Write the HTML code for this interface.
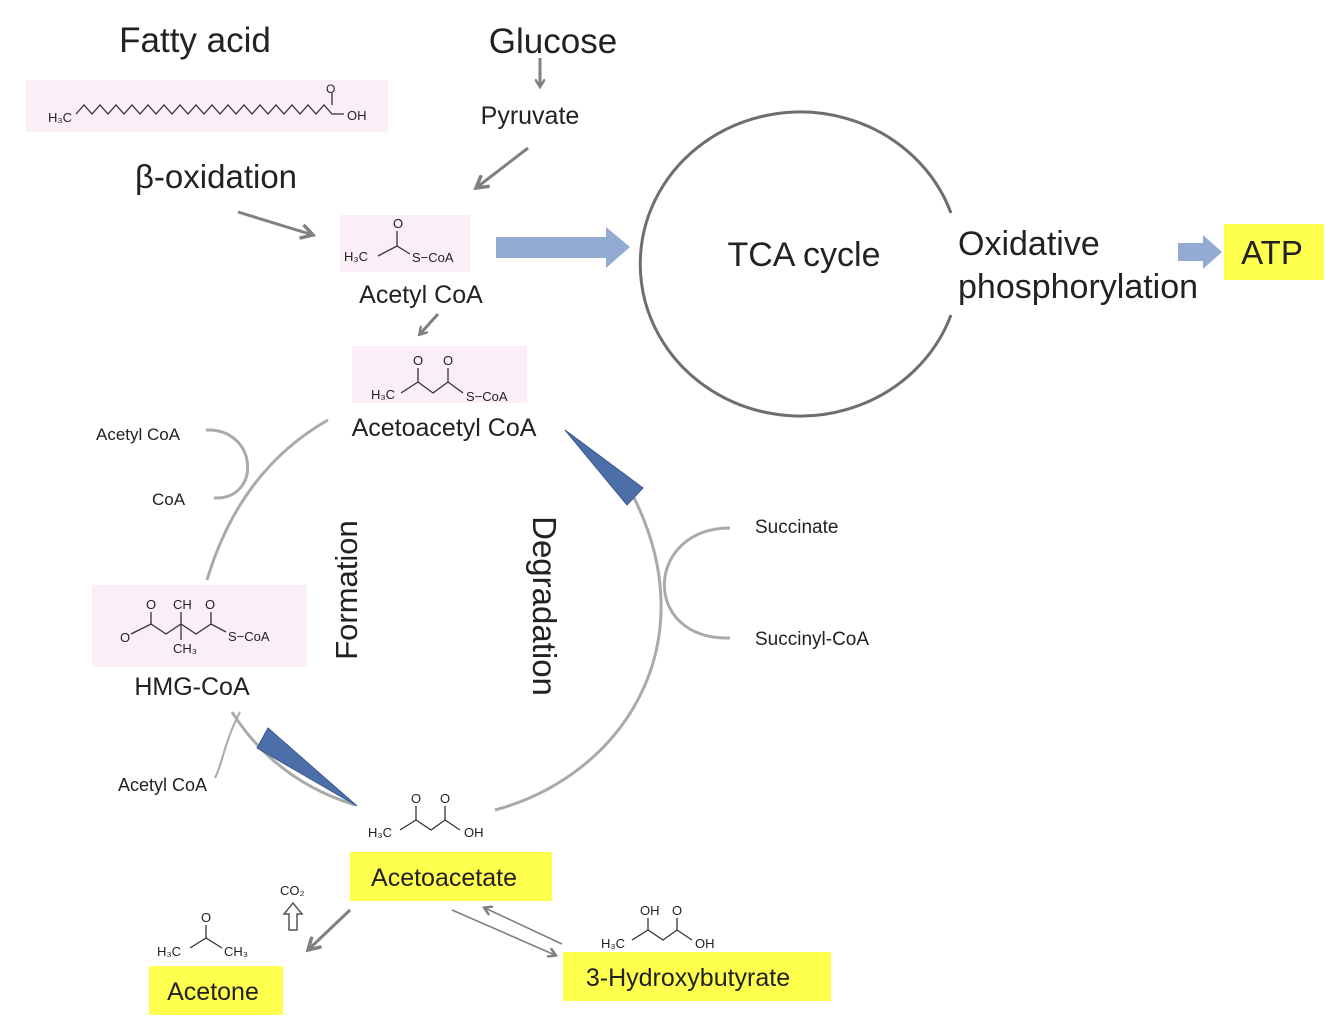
<!DOCTYPE html>
<html><head><meta charset="utf-8"><style>
html,body{margin:0;padding:0;background:#fff;}
svg{display:block;font-family:"Liberation Sans",Arial,sans-serif;}
</style></head><body>
<svg width="1334" height="1026" viewBox="0 0 1334 1026" xmlns="http://www.w3.org/2000/svg">
<defs>
<marker id="ag" markerWidth="10" markerHeight="10" refX="7" refY="5" orient="auto" markerUnits="userSpaceOnUse"><path d="M0,0 L8,5 L0,10" fill="none" stroke="#808080" stroke-width="2.5"/></marker>
<marker id="ag2" markerWidth="16" markerHeight="16" refX="13" refY="8" orient="auto" markerUnits="userSpaceOnUse"><path d="M1,1 L13,8 L1,15" fill="none" stroke="#808080" stroke-width="3.5"/></marker>
</defs>
<rect width="1334" height="1026" fill="#fff"/>

<rect x="26" y="80" width="362" height="52" fill="#fbeef7"/>
<rect x="340" y="215" width="130" height="57" fill="#fbeef7"/>
<rect x="352" y="346" width="175" height="57" fill="#fbeef7"/>
<rect x="92" y="585" width="215" height="82" fill="#fbeef7"/>

<text x="195" y="52" font-size="35" text-anchor="middle" fill="#222">Fatty acid</text>
<text x="553" y="53" font-size="35" text-anchor="middle" fill="#222">Glucose</text>
<text x="530" y="124" font-size="25" text-anchor="middle" fill="#222">Pyruvate</text>
<text x="216" y="188" font-size="33" text-anchor="middle" fill="#222">β-oxidation</text>

<text x="48" y="122" font-size="13" fill="#222">H₃C</text>
<polyline fill="none" stroke="#333" stroke-width="1.3" points="76,114 84,105 92,114 100,105 108,114 116,105 124,114 132,105 140,114 148,105 156,114 164,105 172,114 180,105 188,114 196,105 204,114 212,105 220,114 228,105 236,114 244,105 252,114 260,105 268,114 276,105 284,114 292,105 300,114 308,105 316,114 324,105 332,114 344,114"/>
<line x1="332" y1="105" x2="332" y2="93" stroke="#333" stroke-width="1.3"/>
<text x="326" y="93" font-size="12" fill="#222">O</text>
<text x="347" y="120" font-size="13" fill="#222">OH</text>

<line x1="540" y1="58" x2="540" y2="86" stroke="#808080" stroke-width="3" marker-end="url(#ag)"/>
<line x1="528" y1="148" x2="476" y2="188" stroke="#808080" stroke-width="3" marker-end="url(#ag2)"/>
<line x1="238" y1="212" x2="313" y2="235" stroke="#808080" stroke-width="3" marker-end="url(#ag2)"/>
<line x1="438" y1="314" x2="420" y2="334" stroke="#808080" stroke-width="3" marker-end="url(#ag)"/>

<text x="393" y="228" font-size="13" fill="#222">O</text>
<line x1="397" y1="231" x2="397" y2="246" stroke="#333" stroke-width="1.3"/>
<polyline fill="none" stroke="#333" stroke-width="1.3" points="378,256 397,246 410,254"/>
<text x="344" y="261" font-size="13" fill="#222">H₃C</text>
<text x="412" y="262" font-size="13" fill="#222">S−CoA</text>
<text x="421" y="303" font-size="25" text-anchor="middle" fill="#222">Acetyl CoA</text>

<text x="413" y="365" font-size="13" fill="#222">O</text>
<text x="443" y="365" font-size="13" fill="#222">O</text>
<line x1="418" y1="368" x2="418" y2="382" stroke="#333" stroke-width="1.3"/>
<line x1="448" y1="368" x2="448" y2="382" stroke="#333" stroke-width="1.3"/>
<polyline fill="none" stroke="#333" stroke-width="1.3" points="401,393 418,382 433,393 448,382 463,393"/>
<text x="371" y="399" font-size="13" fill="#222">H₃C</text>
<text x="466" y="401" font-size="13" fill="#222">S−CoA</text>
<text x="444" y="436" font-size="25" text-anchor="middle" fill="#222">Acetoacetyl CoA</text>

<polygon points="496,237 606,237 606,227 630,247 606,268 606,258 496,258" fill="#93abd3"/>
<polygon points="1178,243 1203,243 1203,235 1222,252 1203,269 1203,261 1178,261" fill="#93abd3"/>

<path d="M951,213 A160,152 0 1 0 951,315" fill="none" stroke="#6e6e6e" stroke-width="3"/>
<text x="804" y="266" font-size="34" text-anchor="middle" fill="#222">TCA cycle</text>
<text x="958" y="255" font-size="34" fill="#222">Oxidative</text>
<text x="958" y="298" font-size="34" fill="#222">phosphorylation</text>
<rect x="1224" y="224" width="100" height="56" fill="#ffff4d"/>
<text x="1272" y="264" font-size="33" text-anchor="middle" fill="#222">ATP</text>

<path d="M328,420 Q240,470 207,580" fill="none" stroke="#aaaaaa" stroke-width="3"/>
<path d="M232,712 Q275,780 355,805" fill="none" stroke="#aaaaaa" stroke-width="3"/>
<path d="M495,810 C625,775 710,640 630,490" fill="none" stroke="#aaaaaa" stroke-width="3"/>
<path d="M206,430 C258,428 262,500 214,498" fill="none" stroke="#aaaaaa" stroke-width="3"/>
<path d="M730,528 C645,528 640,640 730,638" fill="none" stroke="#aaaaaa" stroke-width="3"/>
<path d="M240,712 C225,740 222,765 215,778" fill="none" stroke="#aaaaaa" stroke-width="2"/>
<polygon points="565,430 643,488 627,505" fill="#4d6fa9" stroke="#3a5a8f" stroke-width="1"/>
<polygon points="268,728 257,748 357,806" fill="#4d6fa9" stroke="#3a5a8f" stroke-width="1"/>

<text x="96" y="440" font-size="17" fill="#222">Acetyl CoA</text>
<text x="152" y="505" font-size="17" fill="#222">CoA</text>
<text x="755" y="533" font-size="19" fill="#222">Succinate</text>
<text x="755" y="645" font-size="19" fill="#222">Succinyl-CoA</text>
<text x="118" y="791" font-size="18" fill="#222">Acetyl CoA</text>

<text transform="translate(357,590) rotate(-90)" font-size="31" text-anchor="middle" fill="#222">Formation</text>
<text transform="translate(533,606) rotate(90)" font-size="33" text-anchor="middle" fill="#222">Degradation</text>

<text x="146" y="609" font-size="13" fill="#222">O</text>
<text x="173" y="609" font-size="13" fill="#222">CH</text>
<text x="205" y="609" font-size="13" fill="#222">O</text>
<line x1="151" y1="612" x2="151" y2="624" stroke="#333" stroke-width="1.3"/>
<line x1="211" y1="612" x2="211" y2="624" stroke="#333" stroke-width="1.3"/>
<line x1="181" y1="612" x2="181" y2="640" stroke="#333" stroke-width="1.3"/>
<polyline fill="none" stroke="#333" stroke-width="1.3" points="131,634 151,624 166,634 181,624 196,634 211,624 226,632"/>
<text x="120" y="642" font-size="13" fill="#222">O</text>
<text x="228" y="641" font-size="13" fill="#222">S−CoA</text>
<text x="173" y="653" font-size="13" fill="#222">CH₃</text>
<text x="192" y="695" font-size="25" text-anchor="middle" fill="#222">HMG-CoA</text>

<text x="411" y="803" font-size="13" fill="#222">O</text>
<text x="440" y="803" font-size="13" fill="#222">O</text>
<line x1="416" y1="806" x2="416" y2="820" stroke="#333" stroke-width="1.3"/>
<line x1="445" y1="806" x2="445" y2="820" stroke="#333" stroke-width="1.3"/>
<polyline fill="none" stroke="#333" stroke-width="1.3" points="400,830 416,820 431,830 445,820 460,830"/>
<text x="368" y="837" font-size="13" fill="#222">H₃C</text>
<text x="464" y="837" font-size="13" fill="#222">OH</text>
<rect x="350" y="852" width="202" height="49" fill="#ffff4d"/>
<text x="444" y="886" font-size="25" text-anchor="middle" fill="#222">Acetoacetate</text>

<text x="201" y="922" font-size="13" fill="#222">O</text>
<line x1="206" y1="925" x2="206" y2="938" stroke="#333" stroke-width="1.3"/>
<polyline fill="none" stroke="#333" stroke-width="1.3" points="190,948 206,938 222,948"/>
<text x="157" y="956" font-size="13" fill="#222">H₃C</text>
<text x="224" y="956" font-size="13" fill="#222">CH₃</text>
<rect x="149" y="966" width="134" height="49" fill="#ffff4d"/>
<text x="213" y="1000" font-size="25" text-anchor="middle" fill="#222">Acetone</text>

<text x="280" y="895" font-size="13" fill="#222">CO₂</text>
<path d="M289,930 L297,930 L297,914 L302,914 L293,903 L284,914 L289,914 Z" fill="#fff" stroke="#555" stroke-width="1.5"/>

<line x1="350" y1="910" x2="308" y2="950" stroke="#808080" stroke-width="3" marker-end="url(#ag2)"/>
<line x1="452" y1="910" x2="555" y2="955" stroke="#808080" stroke-width="1.6" marker-end="url(#ag)"/>
<line x1="562" y1="944" x2="485" y2="908" stroke="#808080" stroke-width="1.6" marker-end="url(#ag)"/>

<text x="640" y="915" font-size="13" fill="#222">OH</text>
<text x="672" y="915" font-size="13" fill="#222">O</text>
<line x1="648" y1="918" x2="648" y2="930" stroke="#333" stroke-width="1.3"/>
<line x1="677" y1="918" x2="677" y2="930" stroke="#333" stroke-width="1.3"/>
<polyline fill="none" stroke="#333" stroke-width="1.3" points="632,940 648,930 663,940 677,930 692,940"/>
<text x="601" y="948" font-size="13" fill="#222">H₃C</text>
<text x="695" y="948" font-size="13" fill="#222">OH</text>
<rect x="563" y="952" width="268" height="49" fill="#ffff4d"/>
<text x="688" y="986" font-size="25" text-anchor="middle" fill="#222">3-Hydroxybutyrate</text>
</svg>
</body></html>
